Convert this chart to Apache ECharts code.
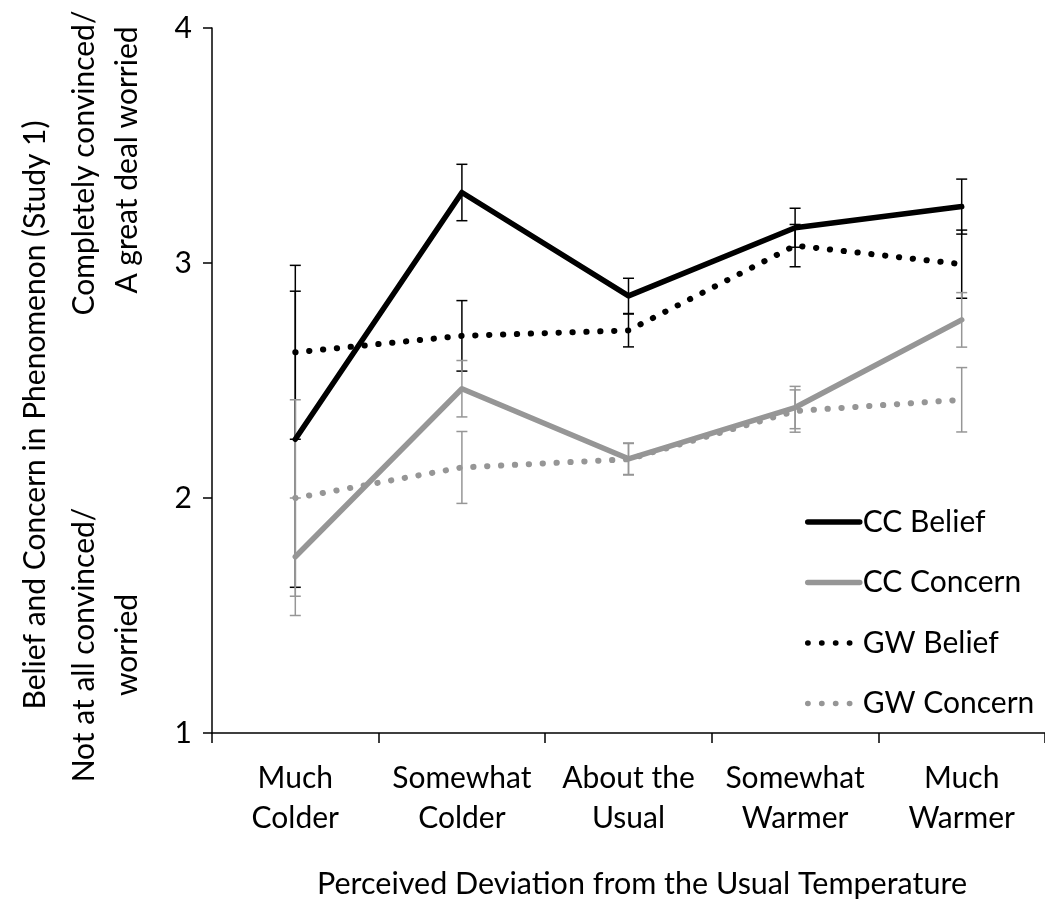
<!DOCTYPE html>
<html>
<head>
<meta charset="utf-8">
<title>Belief and Concern by Perceived Temperature Deviation</title>
<script src="https://cdn.jsdelivr.net/npm/echarts@6/dist/echarts.min.js"></script>
<style>
  html, body { margin: 0; padding: 0; background: #fff; }
  #chart { width: 1045px; height: 902px; }
</style>
</head>
<body>
<div id="chart"></div>
<script>
// Perceived deviation categories (x axis)
const categories = ['Much\nColder', 'Somewhat\nColder', 'About the\nUsual', 'Somewhat\nWarmer', 'Much\nWarmer'];

// Means per category
const ccBelief  = [2.25, 3.30, 2.86, 3.15, 3.24];
const ccConcern = [1.75, 2.465, 2.167, 2.385, 2.758];
const gwBelief  = [2.62, 2.69, 2.713, 3.074, 2.995];
const gwConcern = [2.00, 2.13, 2.165, 2.37, 2.418];

// Error bar half-widths per category
const ccBeliefErr  = [0.63, 0.12, 0.075, 0.083, 0.117];
const ccConcernErr = [0.25, 0.12, 0.067, 0.09, 0.116];
const gwBeliefErr  = [0.37, 0.15, 0.07, 0.09, 0.145];
const gwConcernErr = [0.418, 0.153, 0.067, 0.09, 0.137];

// Y axis ticks
const yTicks = [1, 2, 3, 4];

const BLACK = '#000000';
const GREY = '#969696';
const FONT = 'Lato';

function errorData(means, errs) {
  return means.map((m, i) => [i, m - errs[i], m + errs[i]]);
}

function errorBarSeries(means, errs, color) {
  return {
    type: 'custom',
    silent: true,
    z: 1,
    data: errorData(means, errs),
    encode: { x: 0, y: [1, 2] },
    renderItem: function (params, api) {
      const idx = api.value(0);
      const lo = api.coord([idx, api.value(1)]);
      const hi = api.coord([idx, api.value(2)]);
      const half = 5.5;
      const style = { stroke: color, lineWidth: 1.5 };
      return {
        type: 'group',
        children: [
          { type: 'line', shape: { x1: hi[0], y1: hi[1], x2: lo[0], y2: lo[1] }, style: style },
          { type: 'line', shape: { x1: hi[0] - half, y1: hi[1], x2: hi[0] + half, y2: hi[1] }, style: style },
          { type: 'line', shape: { x1: lo[0] - half, y1: lo[1], x2: lo[0] + half, y2: lo[1] }, style: style }
        ]
      };
    }
  };
}

function lineSeries(name, values, color, dotted) {
  return {
    name: name,
    type: 'line',
    data: values,
    symbol: 'none',
    z: 3,
    lineStyle: dotted
      ? { color: color, width: 6, type: [0.3, 13.6], cap: 'round' }
      : { color: color, width: 5.5, cap: 'round', join: 'round' },
    itemStyle: { color: color }
  };
}

const chart = echarts.init(document.getElementById('chart'), null, { renderer: 'canvas' });

const titleStyle = { fontFamily: FONT, fontSize: 30, fill: BLACK, align: 'center', verticalAlign: 'middle' };

chart.setOption({
  animation: false,
  backgroundColor: '#ffffff',
  grid: { left: 212, top: 28, right: 0, bottom: 169, containLabel: false },
  legend: {
    orient: 'vertical',
    left: 800,
    top: 502,
    itemWidth: 52,
    itemHeight: 14,
    itemGap: 30.5,
    data: ['CC Belief', 'CC Concern', 'GW Belief', 'GW Concern'],
    lineStyle: { width: 5.5 },
    itemStyle: { opacity: 0 },
    textStyle: { fontFamily: FONT, fontSize: 30, color: BLACK, padding: [0, 0, 0, -2] }
  },
  xAxis: {
    type: 'category',
    data: categories,
    boundaryGap: true,
    axisLine: { lineStyle: { color: BLACK, width: 1.5 } },
    axisTick: { show: true, length: 10, inside: false, lineStyle: { color: BLACK, width: 1.5 } },
    axisLabel: { color: BLACK, fontFamily: FONT, fontSize: 30, lineHeight: 40, margin: 25, interval: 0 },
    splitLine: { show: false }
  },
  yAxis: {
    type: 'value',
    min: yTicks[0],
    max: yTicks[yTicks.length - 1],
    interval: 1,
    axisLine: { show: true, lineStyle: { color: BLACK, width: 1.5 } },
    axisTick: { show: true, length: 9, inside: false, lineStyle: { color: BLACK, width: 1.5 } },
    axisLabel: { color: BLACK, fontFamily: FONT, fontSize: 30, margin: 20 },
    splitLine: { show: false }
  },
  graphic: [
    { type: 'text', x: 642, y: 884, style: Object.assign({ text: 'Perceived Deviation from the Usual Temperature' }, titleStyle, { fontSize: 30.5 }) },
    { type: 'text', x: 35, y: 415, rotation: Math.PI / 2, style: Object.assign({ text: 'Belief and Concern in Phenomenon (Study 1)' }, titleStyle) },
    { type: 'text', x: 84, y: 163, rotation: Math.PI / 2, style: Object.assign({ text: 'Completely convinced/' }, titleStyle) },
    { type: 'text', x: 127, y: 160, rotation: Math.PI / 2, style: Object.assign({ text: 'A great deal worried' }, titleStyle) },
    { type: 'text', x: 84, y: 645, rotation: Math.PI / 2, style: Object.assign({ text: 'Not at all convinced/' }, titleStyle) },
    { type: 'text', x: 127, y: 645, rotation: Math.PI / 2, style: Object.assign({ text: 'worried' }, titleStyle) }
  ],
  series: [
    errorBarSeries(ccBelief, ccBeliefErr, BLACK),
    errorBarSeries(gwBelief, gwBeliefErr, BLACK),
    errorBarSeries(ccConcern, ccConcernErr, GREY),
    errorBarSeries(gwConcern, gwConcernErr, GREY),
    lineSeries('CC Belief', ccBelief, BLACK, false),
    lineSeries('CC Concern', ccConcern, GREY, false),
    lineSeries('GW Belief', gwBelief, BLACK, true),
    lineSeries('GW Concern', gwConcern, GREY, true)
  ]
});
</script>
</body>
</html>
